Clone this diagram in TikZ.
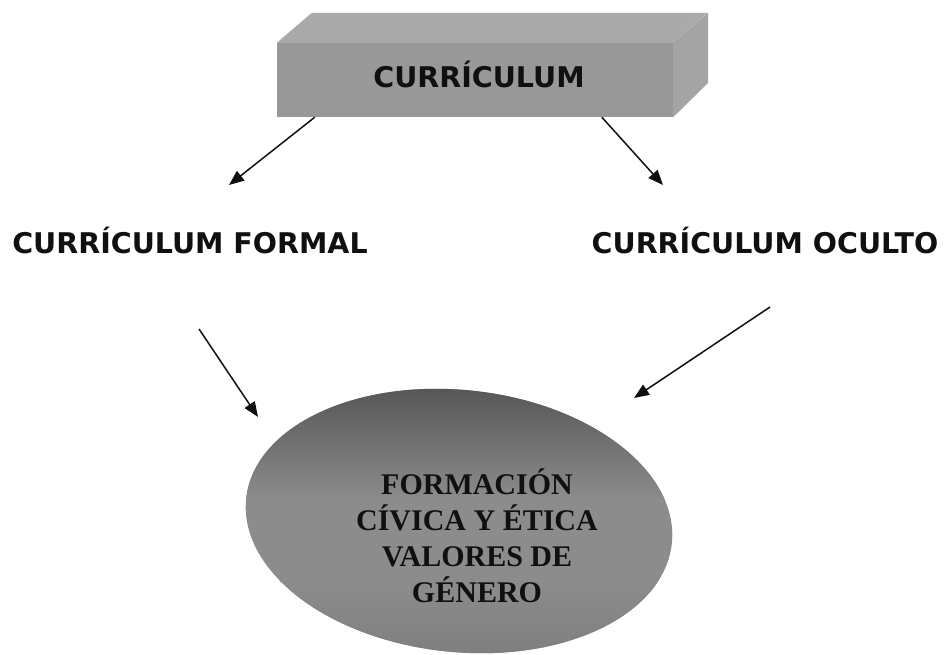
\documentclass[tikz,border=0pt]{standalone}
\usepackage{fontspec}
\newfontfamily\lblfont{DejaVu Sans}
\newfontfamily\serfont{Liberation Serif}
\usetikzlibrary{arrows.meta,calc,shapes.geometric}
\definecolor{boxfront}{HTML}{989898}
\definecolor{boxtop}{HTML}{AAAAAA}
\definecolor{boxside}{HTML}{A4A4A4}
\definecolor{eggtop}{HTML}{555555}
\definecolor{eggmid}{HTML}{8C8C8C}
\definecolor{eggbot}{HTML}{7E7E7E}
\definecolor{ink}{HTML}{101010}
\begin{document}
\begin{tikzpicture}[x=1pt,y=-1pt,
  lbl/.style={font=\lblfont\bfseries\fontsize{28.5}{34}\selectfont, text=ink, inner sep=0pt, anchor=base},
  arr/.style={line width=1.5pt, draw=ink, -{Triangle[length=15pt,width=12pt]}},
  serlbl/.style={font=\serfont\bfseries\fontsize{30}{36}\selectfont, text=ink, inner sep=0pt, align=center},
]
\useasboundingbox (0,0) rectangle (947,654);
% 3D box
\node[fill=boxfront, minimum width=396pt, minimum height=74pt, inner sep=0pt] (cur) at (475,80) {};
\fill[boxtop] (cur.north west) -- ++(35,-30) -- ++(396,0) -- (cur.north east) -- cycle;
\fill[boxside] (cur.north east) -- ++(35,-30) -- ++(0,70) -- (cur.south east) -- cycle;
\node[lbl] (curtxt) at (479,87) {CURRÍCULUM};
% labels
\node[lbl] (formal) at (190,253) {CURRÍCULUM FORMAL};
\node[lbl] (oculto) at (765,253) {CURRÍCULUM OCULTO};
% egg
\node[ellipse, minimum width=428pt, minimum height=262pt, inner sep=0pt, rotate=-6, fill=eggmid] (fce) at (459,521) {};
\begin{scope}
  \clip[rotate around={-6:(459,521)}] (459,521) ellipse [x radius=214, y radius=131];
  \shade[top color=eggtop, bottom color=eggmid] (200,385) rectangle (720,500);
  \shade[top color=eggmid, bottom color=eggbot] (200,580) rectangle (720,660);
\end{scope}
\node[serlbl] (fcetxt) at (477,536) {FORMACIÓN\\CÍVICA Y ÉTICA\\VALORES DE\\GÉNERO};
% arrow ends
\coordinate (fTip) at (229,185);
\coordinate (oTip) at (663,185);
\coordinate (fTail) at (199,329);
\coordinate (fHead) at (258,417);
\coordinate (oTail) at (770,307);
\coordinate (oHead) at (634,398);
\draw[arr] ($(cur.south west)+(38,0)$) -- (fTip);
\draw[arr] ($(cur.south west)+(325,0)$) -- (oTip);
\draw[arr] (fTail) -- (fHead);
\draw[arr] (oTail) -- (oHead);
\end{tikzpicture}
\end{document}
